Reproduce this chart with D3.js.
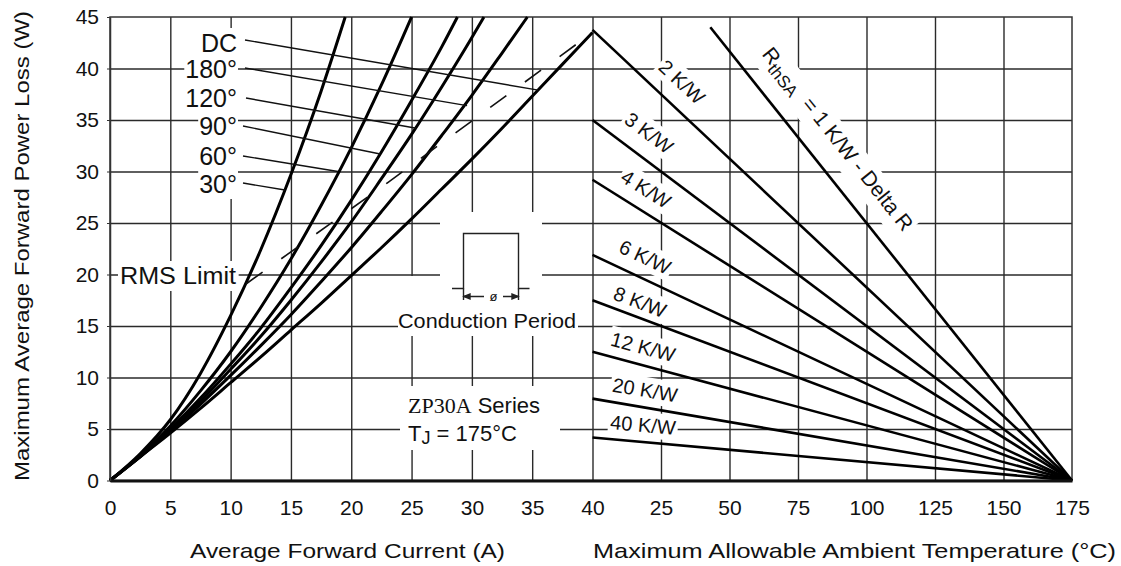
<!DOCTYPE html>
<html>
<head>
<meta charset="utf-8">
<script src="https://cdn.jsdelivr.net/npm/d3@7/dist/d3.min.js"></script>
<style>
  body { margin: 0; background: #fff; }
  text { font-family: "Liberation Sans", Arial, sans-serif; fill: #111; }
</style>
</head>
<body>
<svg id="chart" width="1121" height="566"></svg>
<script>
// ---- data ----
const currentTicks = [0, 5, 10, 15, 20, 25, 30, 35, 40];
const tempTicks = [25, 50, 75, 100, 125, 150, 175];
const powerTicks = [0, 5, 10, 15, 20, 25, 30, 35, 40, 45];

// power loss curves, [average current A, power W]
const curve30 = [[0,0],[2.5,2.6],[5,5.9],[7.5,10.4],[10,16.0],[12.5,22.4],[15,29.7],[17.5,37.8],[19.5,45]];
const curve60 = [[0,0],[2.5,2.45],[5,5.3],[7.5,8.7],[10,12.5],[12.5,16.8],[15,21.5],[17.5,26.7],[20,32.3],[22.5,38.4],[25,45]];
const curve90 = [[0,0],[2.5,2.35],[5,5.0],[7.5,8.0],[10,11.3],[12.5,14.8],[15,18.7],[17.5,22.8],[20,27.2],[22.5,31.9],[25,36.9],[27.5,42.1],[28.8,45]];
const curve120 = [[0,0],[2.5,2.35],[5,4.9],[7.5,7.7],[10,10.8],[12.5,14.0],[15,17.5],[17.5,21.2],[20,25.1],[22.5,29.3],[25,33.6],[27.5,38.2],[30,43.0],[31,45]];
const curve180 = [[0,0],[2.5,2.3],[5,4.8],[7.5,7.4],[10,10.2],[12.5,13.1],[15,16.1],[17.5,19.3],[20,22.6],[22.5,26.1],[25,29.7],[27.5,33.5],[30,37.4],[32.5,41.5],[34.6,45]];
const curveDC = [[0,0],[2.5,2.3],[5,4.6],[7.5,7.0],[10,9.5],[12.5,12.0],[15,14.6],[17.5,17.2],[20,19.9],[22.5,22.6],[25,25.4],[27.5,28.3],[30,31.2],[32.5,34.2],[35,37.3],[37.5,40.4],[40,43.5]];
const rmsLimit = [[11.3,19.1],[23,28.9],[40,43.5]];

const angleLabels = ["DC", "180°", "120°", "90°", "60°", "30°"];
// where each leader line touches its curve [A, W]
const leaderTargets = [[35.5,37.9],[29.6,36.4],[25.4,34.2],[22.4,31.7],[18.9,30.0],[14.5,28.2]];

// heatsink lines: thermal resistance, start temp (°C), start power (W), all end at 175 °C / 0 W
const rthValues = [1, 2, 3, 4, 6, 8, 12, 20, 40];
const rthStartTemp = [43, 0, 0, 0, 0, 0, 0, 0, 0];
const rthStartPower = [44.0, 43.75, 35.0, 29.2, 21.9, 17.5, 12.5, 7.95, 4.17];
const tjMax = 175;

// ---- layout ----
const svg = d3.select("#chart");
const xI = d3.scaleLinear().domain([0, 40]).range([110, 592.5]);
const xT = d3.scaleLinear().domain([0, 175]).range([592.5, 1072]);
const y = d3.scaleLinear().domain([0, 45]).range([480.5, 17]);

const gridLayer = svg.append("g");
const knockLayer = svg.append("g");
const markLayer = svg.append("g");
const textLayer = svg.append("g");

const gridColor = "#2a2a2a";

// vertical grid, current side
gridLayer.append("g")
    .attr("transform", `translate(0,${y(0)})`)
    .call(d3.axisBottom(xI).tickValues(currentTicks.slice(1)).tickSize(y(45) - y(0)).tickFormat(""))
    .call(g => g.select(".domain").remove());
// vertical grid, temperature side
gridLayer.append("g")
    .attr("transform", `translate(0,${y(0)})`)
    .call(d3.axisBottom(xT).tickValues(tempTicks.slice(0, -1)).tickSize(y(45) - y(0)).tickFormat(""))
    .call(g => g.select(".domain").remove());
// horizontal grid
gridLayer.append("g")
    .attr("transform", `translate(${xI(0)},0)`)
    .call(d3.axisLeft(y).tickValues(powerTicks.slice(1, -1)).tickSize(xI(0) - xT(175)).tickFormat(""))
    .call(g => g.select(".domain").remove());
gridLayer.selectAll("line").attr("stroke", gridColor).attr("stroke-width", 1.4);

// frame
gridLayer.append("rect")
    .attr("x", xI(0)).attr("y", y(45))
    .attr("width", xT(175) - xI(0)).attr("height", y(0) - y(45))
    .attr("fill", "none").attr("stroke", "#333").attr("stroke-width", 1.5);

// bottom axes with labels
const axisFont = g => g.selectAll("text")
    .style("font-family", "'Liberation Sans', Arial, sans-serif")
    .style("font-size", "21px").attr("fill", "#111");

svg.append("g")
    .attr("transform", `translate(0,${y(0)})`)
    .call(d3.axisBottom(xI).tickValues(currentTicks).tickSize(0).tickPadding(20).tickSizeOuter(0))
    .call(axisFont)
    .call(g => g.select(".domain").attr("stroke", "#111").attr("stroke-width", 3));
svg.append("g")
    .attr("transform", `translate(0,${y(0)})`)
    .call(d3.axisBottom(xT).tickValues(tempTicks).tickSize(0).tickPadding(20).tickSizeOuter(0))
    .call(axisFont)
    .call(g => g.select(".domain").attr("stroke", "#111").attr("stroke-width", 3));
svg.append("g")
    .attr("transform", `translate(${xI(0)},0)`)
    .call(d3.axisLeft(y).tickValues(powerTicks).tickSize(3).tickPadding(8).tickSizeOuter(0))
    .call(axisFont)
    .call(g => g.select(".domain").attr("stroke", "#333").attr("stroke-width", 1.5))
    .call(g => g.selectAll("line").attr("stroke", "#333"));

// ---- knockout helper: white box behind a text ----
function knock(t, pad) {
    const b = t.node().getBBox();
    knockLayer.append("rect")
        .attr("x", b.x - pad).attr("y", b.y - pad)
        .attr("width", b.width + 2 * pad).attr("height", b.height + 2 * pad)
        .attr("fill", "#fff")
        .attr("transform", t.attr("transform"));
    return t;
}

// ---- power loss curves ----
const lineI = d3.line().x(d => xI(d[0])).y(d => y(d[1])).curve(d3.curveMonotoneX);
const curves = [curveDC, curve180, curve120, curve90, curve60, curve30];

markLayer.selectAll("path.curve")
    .data(curves)
    .join("path")
    .attr("class", "curve")
    .attr("d", lineI)
    .attr("fill", "none")
    .attr("stroke", "#000")
    .attr("stroke-width", 3)
    .attr("stroke-linejoin", "round");

markLayer.append("path")
    .attr("d", d3.line().x(d => xI(d[0])).y(d => y(d[1]))(rmsLimit))
    .attr("fill", "none").attr("stroke", "#111")
    .attr("stroke-width", 1.6).attr("stroke-dasharray", "20 23");

// angle labels and leaders
const labelBase = [52, 78, 107, 135, 165, 193];
const leaderStart = [[245, 40], [245, 68], [246, 98], [243, 126], [243, 156], [243, 183]];

angleLabels.forEach((lab, i) => {
    const t = textLayer.append("text")
        .attr("x", 237).attr("y", labelBase[i])
        .attr("text-anchor", "end")
        .style("font-size", "25px")
        .text(lab);
    knock(t, 1);
    markLayer.append("line")
        .attr("x1", leaderStart[i][0]).attr("y1", leaderStart[i][1])
        .attr("x2", xI(leaderTargets[i][0])).attr("y2", y(leaderTargets[i][1]))
        .attr("stroke", "#111").attr("stroke-width", 1.4);
});

knock(textLayer.append("text")
    .attr("x", 120).attr("y", 284)
    .attr("textLength", 116).attr("lengthAdjust", "spacingAndGlyphs")
    .style("font-size", "23px")
    .text("RMS Limit"), 2);

// conduction period sketch
knockLayer.append("rect").attr("x", 440).attr("y", 212).attr("width", 102).attr("height", 66).attr("fill", "#fff");
knockLayer.append("rect").attr("x", 398).attr("y", 276).attr("width", 180).attr("height", 60).attr("fill", "#fff");
const pulse = markLayer.append("g").attr("stroke", "#222").attr("stroke-width", 1.4).attr("fill", "none");
pulse.append("path").attr("d", "M452,288.5H463.5V233.5H518.5V288.5H529.5");
pulse.append("path").attr("d", "M463.5,288.5V300M518.5,288.5V300");
pulse.append("path").attr("d", "M464,296.5H484M503,296.5H518");
pulse.append("path").attr("d", "M464,296.5l6,-2.5v5zM518,296.5l-6,-2.5v5z").attr("fill", "#222");
textLayer.append("text").attr("x", 493.5).attr("y", 301).attr("text-anchor", "middle")
    .style("font-size", "13px").text("ø");

textLayer.append("text")
    .attr("x", 398).attr("y", 328)
    .attr("textLength", 178).attr("lengthAdjust", "spacingAndGlyphs")
    .style("font-size", "21px")
    .text("Conduction Period");

// series note
knockLayer.append("rect").attr("x", 400).attr("y", 386).attr("width", 160).attr("height", 64).attr("fill", "#fff");
const series = textLayer.append("text").attr("x", 408).attr("y", 413).style("font-size", "22px");
series.append("tspan").style("font-family", "'Liberation Serif', 'Times New Roman', serif").text("ZP30A");
series.append("tspan").text(" Series");
const tj = textLayer.append("text").attr("x", 408).attr("y", 441).style("font-size", "22px");
tj.append("tspan").text("T");
tj.append("tspan").attr("dy", 3).style("font-size", "18px").text("J");
tj.append("tspan").attr("dy", -3).text(" = 175°C");

// ---- ambient temperature lines ----
const rthLines = rthValues.map((r, i) => [[rthStartTemp[i], rthStartPower[i]], [tjMax, 0]]);
const lineT = d3.line().x(d => xT(d[0])).y(d => y(d[1]));

markLayer.selectAll("path.rth")
    .data(rthLines)
    .join("path")
    .attr("class", "rth")
    .attr("d", lineT)
    .attr("fill", "none")
    .attr("stroke", "#000")
    .attr("stroke-width", 2.6);

// K/W labels along lines
const kwCenters = [null, [682, 82], [649, 133], [646, 189], [645, 257], [640, 302], [643, 347], [645, 390], [643, 425]];
rthValues.forEach((r, i) => {
    if (i === 0) return;
    const dx = xT(tjMax) - xT(rthStartTemp[i]);
    const dy = y(0) - y(rthStartPower[i]);
    const ang = Math.atan2(dy, dx) * 180 / Math.PI;
    const t = textLayer.append("text")
        .attr("transform", `translate(${kwCenters[i][0]},${kwCenters[i][1]}) rotate(${ang})`)
        .attr("text-anchor", "middle").attr("dy", "0.35em")
        .style("font-size", "20px")
        .text(`${r} K/W`);
    knock(t, 2);
});

// R thSA = 1 K/W - Delta R
{
    const dx = xT(tjMax) - xT(rthStartTemp[0]);
    const dy = y(0) - y(rthStartPower[0]);
    const ang = Math.atan2(dy, dx) * 180 / Math.PI;
    const t = textLayer.append("text")
        .attr("transform", `translate(838,139) rotate(${ang})`)
        .attr("text-anchor", "middle").attr("dy", "0.35em")
        .style("font-size", "21px");
    t.append("tspan").text("R");
    t.append("tspan").attr("dy", 5).style("font-size", "17px").text("thSA");
    t.append("tspan").attr("dy", -5).text(`  = ${rthValues[0]} K/W - Delta R`);
    t.attr("xml:space", "preserve");
    knock(t, 2);
}

// ---- axis titles ----
textLayer.append("text")
    .attr("transform", "translate(29,246) rotate(-90)")
    .attr("text-anchor", "middle")
    .attr("textLength", 470).attr("lengthAdjust", "spacingAndGlyphs")
    .style("font-size", "21px")
    .text("Maximum Average Forward Power Loss (W)");
textLayer.append("text")
    .attr("x", 190).attr("y", 558)
    .attr("textLength", 315).attr("lengthAdjust", "spacingAndGlyphs")
    .style("font-size", "21px")
    .text("Average Forward Current (A)");
textLayer.append("text")
    .attr("x", 593).attr("y", 558)
    .attr("textLength", 523).attr("lengthAdjust", "spacingAndGlyphs")
    .style("font-size", "21px")
    .text("Maximum Allowable Ambient Temperature (°C)");
</script>
</body>
</html>
